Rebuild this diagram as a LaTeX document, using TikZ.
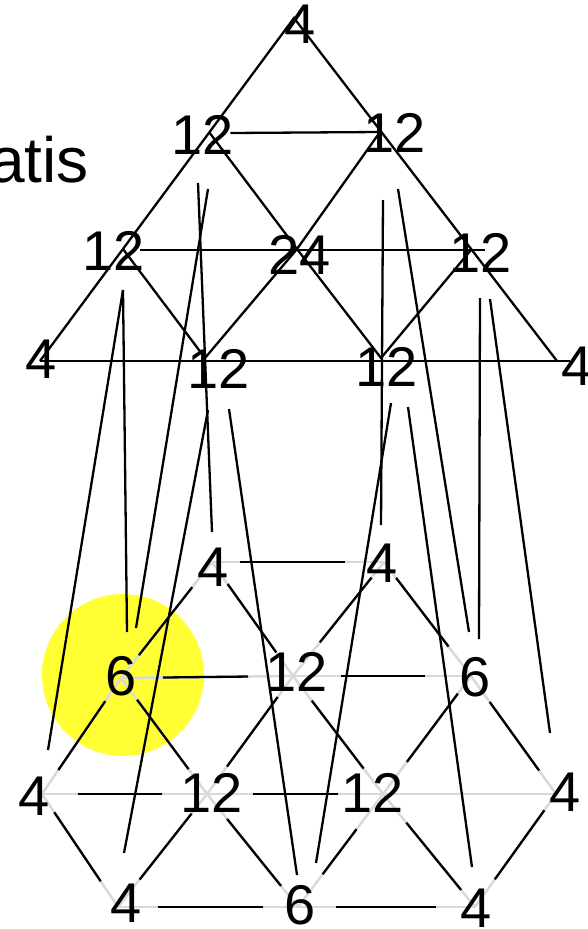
\documentclass[tikz,border=0pt]{standalone}
\usepackage{fontspec}
\setmainfont{Liberation Sans}
\definecolor{hilite}{HTML}{FFFF33}
\definecolor{lattice}{HTML}{D9D9D9}

\begin{document}
\begin{tikzpicture}[x=1pt,y=-1pt,
  lbl/.style={inner sep=0pt,font=\fontsize{56}{60}\selectfont},
  edge/.style={line width=2.3pt},
  grid/.style={lattice,line width=2.5pt},
  seg/.style 2 args={line width=2.3pt,shorten <=#1pt,shorten >=#2pt}]
  \useasboundingbox (0,0) rectangle (588,929);
  % highlighted class
  \fill[hilite] (123,675) circle[radius=81pt];
  % lattice points
  \foreach \n/\x/\y in {t0/294/18,a1/209/132,a2/380/132,b1/123/249,b2/297/249,b3/471/250,
      c1/40/361,c2/205/358,c3/381/358,c4/557/361,
      d1/212/562,d2/384/562,e1/121/678,e2/293/676,e3/471/676,
      f1/42/794,f2/207/794,f3/383/794,f4/556/794,g1/118/907,g2/298/907,g3/475/907}
    \coordinate (\n) at (\x,\y);
  % lower lattice, grey
  \foreach \a/\b in {d1/d2,e1/e2,e2/e3,f1/f2,f2/f3,f3/f4,g1/g2,g2/g3,
      d1/e1,d1/e2,d2/e2,d2/e3,e1/f1,e1/f2,e2/f2,e2/f3,e3/f3,e3/f4,
      f1/g1,f2/g1,f2/g2,f3/g2,f3/g3,f4/g3}
    \draw[grid] (\a) -- (\b);
  % class sizes
  \foreach \n/\x/\y/\t in {t0/300/24/4,a1/203/135/12,a2/395/133/12,b1/114/251/12,b2/300/255/24,
      b3/481/253/12,c1/41/359/4,c2/219/369/12,c3/387/367/12,c4/577/366/4,
      d1/213/567/4,d2/382/563/4,e1/121/676/6,e2/297/672/12,e3/475/677/6,
      f1/34/796/4,f2/212/793/12,f3/373/793/12,f4/565/792/4,
      g1/126/903/4,g2/300/905/6,g3/476/908/4}
    \node[lbl] (l\n) at (\x,\y) {\t};
  \node[font=\fontsize{64}{70}\selectfont,anchor=base east,inner sep=0pt] (title) at (89,182) {atis};
  % upper triangle
  \draw[edge] (c1) -- (t0) -- (c4);
  \draw[edge] ([shift={(-4,-2)}]la1.east) -- (a2);
  \draw[edge] ([shift={(-5,-1)}]lb1.east) -- ([shift={(4,-3)}]lb3.center);
  \draw[edge] (c1) -- ([shift={(-7,-5)}]lc4.center);
  \draw[edge] (a1) -- (b2) -- (a2);
  \draw[edge] (b1) -- (c2) -- (b2) -- (c3) -- (b3);
  % lower lattice, black
  \foreach \a/\b/\s/\e in {d1/e1/32/29,d1/e2/27/29,d2/e2/20/43,d2/e3/20/37,
      e1/f1/28/29,e1/f2/27/31,e2/f2/26/34,e2/f3/31/32,e3/f3/22/40,e3/f4/32/29,
      f1/g1/22/31,f2/g1/25/35,f2/g2/32/27,f3/g2/44/41,f3/g3/37/22,f4/g3/20/34,
      d1/d2/28/39,e1/e2/42/45,e2/e3/48/46,f1/f2/36/45,f2/f3/46/45,g1/g2/40/35,g2/g3/38/39}
    \draw[seg={\s}{\e}] (\a) -- (\b);
  % links between the two lattices
  \draw[edge] ([shift={(-5,48)}]la1.center) -- ([shift={(-1,-35)}]ld1.center);
  \draw[edge] ([shift={(5,54)}]la1.center) -- ([shift={(15,-48)}]le1.center);
  \draw[edge] ([shift={(9,39)}]lb1.center) -- ([shift={(6,-44)}]le1.center);
  \draw[edge] ([shift={(9,39)}]lb1.center) -- ([shift={(14,-46)}]lf1.center);
  \draw[edge] ([shift={(-11,41)}]lc2.center) -- ([shift={(-2,-50)}]lg1.center);
  \draw[edge] ([shift={(10,40)}]lc2.center) -- ([shift={(-3,-30)}]lg2.center);
  \draw[edge] ([shift={(-12,67)}]la2.center) -- ([shift={(-1,-38)}]ld2.center);
  \draw[edge] ([shift={(3,56)}]la2.center) -- ([shift={(-6,-45)}]le3.center);
  \draw[edge] ([shift={(-1,45)}]lb3.center) -- ([shift={(4,-38)}]le3.center);
  \draw[edge] ([shift={(9,46)}]lb3.center) -- ([shift={(-15,-59)}]lf4.center);
  \draw[edge] ([shift={(4,36)}]lc3.center) -- ([shift={(16,-42)}]lg2.center);
  \draw[edge] ([shift={(21,40)}]lc3.center) -- ([shift={(-4,-41)}]lg3.center);
\end{tikzpicture}
\end{document}
